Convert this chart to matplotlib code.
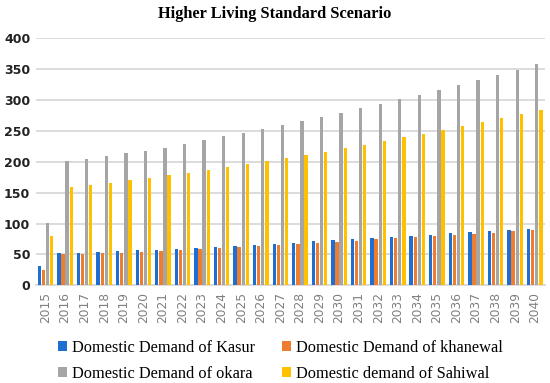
import numpy as np
import matplotlib.pyplot as plt

years = [str(y) for y in range(2015, 2041)]
kasur = [31, 52, 53, 54, 55, 56.5, 57.5, 59, 61, 62, 64, 65, 67, 69, 71, 73,
         75, 77, 78, 80, 82, 84, 86, 88, 90, 92]
khanewal = [25, 50, 51, 52, 53, 54, 56, 57, 58.5, 60, 61.5, 63, 65, 67, 69,
            70.5, 72.5, 74.5, 76, 78, 80, 82, 83.5, 85.5, 87.5, 89]
okara = [101, 201, 205, 210, 214, 218, 223, 229, 235, 241, 247, 253, 259, 266,
         272.5, 279, 286.5, 293.5, 301, 308.5, 316, 324, 332, 340.5, 349, 358]
sahiwal = [80, 160, 163, 166, 170, 173, 178, 182, 187, 191, 196, 201, 206,
           211.5, 216.5, 222, 228, 233.5, 239.5, 245, 251.5, 257.5, 264, 271,
           277.5, 284.5]

series = [
    ("Domestic Demand of Kasur", kasur, "#1F6FD0"),
    ("Domestic Demand of khanewal", khanewal, "#ED7D31"),
    ("Domestic Demand of okara", okara, "#A5A5A5"),
    ("Domestic demand of Sahiwal", sahiwal, "#FFC000"),
]

fig = plt.figure(figsize=(5.5, 3.83), dpi=100)
ax = fig.add_axes([0.065, 0.255, 0.925, 0.645])

x = np.arange(len(years))
w = 0.17
bars = []
for i, (name, vals, col) in enumerate(series):
    b = ax.bar(x + (i - 1.5) * 0.21, vals, width=w, color=col, label=name,
               zorder=3)
    bars.append(b)

ax.set_xlim(-0.5, len(years) - 0.5)
ax.set_ylim(0, 400)
ax.set_yticks(range(0, 401, 50))
ax.set_xticks(x)
ax.set_xticklabels(years, rotation=90, color="#808080", fontsize=8.8)
ax.tick_params(axis="y", labelsize=9, length=0, pad=4)
ax.tick_params(axis="x", length=0, pad=5)
for lab in ax.get_yticklabels():
    lab.set_fontweight("bold")
    lab.set_color("#222222")
ax.grid(axis="y", color="#D9D9D9", linewidth=1.3, zorder=0)
for s in ["top", "right", "left"]:
    ax.spines[s].set_visible(False)
ax.spines["bottom"].set_color("#D9D9D9")
ax.spines["bottom"].set_linewidth(1.3)

fig.suptitle("Higher Living Standard Scenario", y=0.985, fontsize=11.8,
             fontweight="bold", family="Liberation Serif")

# column-wise fill: reorder so rows read Kasur|khanewal, okara|Sahiwal
order = [0, 2, 1, 3]
fig.legend([bars[i] for i in order], [series[i][0] for i in order],
           loc="lower center", ncol=2, bbox_to_anchor=(0.51, -0.035),
           frameon=False, prop={"family": "Liberation Serif", "size": 11.8},
           handlelength=0.55, handleheight=0.55, handletextpad=0.35,
           columnspacing=1.6, labelspacing=0.6)

fig.savefig("out.png", dpi=100)
